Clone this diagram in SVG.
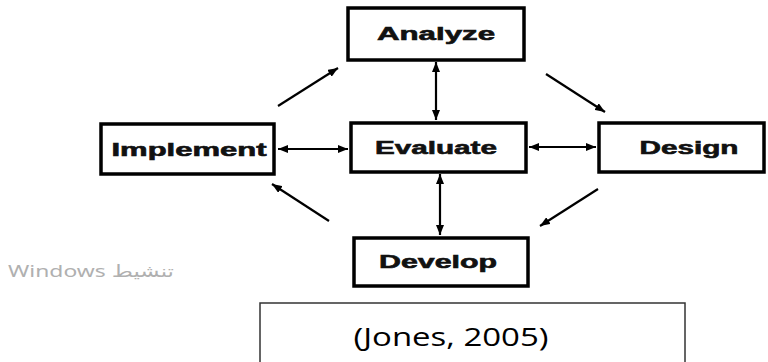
<svg xmlns="http://www.w3.org/2000/svg" width="768" height="362" viewBox="0 0 768 362">
<style>
.box{fill:#fff;stroke:#000;stroke-width:3.5}
.lbl{font-family:"Liberation Sans",Arial,sans-serif;font-weight:bold;font-size:18px;fill:#111;stroke:#111;stroke-width:0.6;text-anchor:middle}
.con{stroke:#000;stroke-width:2.2;fill:none}
.cite{font-family:"Open Sans","Liberation Sans",sans-serif;font-size:26px;fill:#000;text-anchor:middle}
.wm{font-family:"Noto Sans","DejaVu Sans",sans-serif;font-size:17px;fill:#b0b0b0}
</style>
<defs>
<marker id="ah" viewBox="0 0 10 8" refX="10" refY="4" markerWidth="10" markerHeight="8" markerUnits="userSpaceOnUse" orient="auto-start-reverse">
<path d="M0,0 L10,4 L0,8 Z" fill="#000"/>
</marker>
</defs>
<rect width="768" height="362" fill="#fff"/>
<g id="connectors">
<line class="con" x1="436" y1="62" x2="436" y2="120" marker-start="url(#ah)" marker-end="url(#ah)"/>
<line class="con" x1="440" y1="174" x2="440" y2="235" marker-start="url(#ah)" marker-end="url(#ah)"/>
<line class="con" x1="278" y1="149" x2="348" y2="149" marker-start="url(#ah)" marker-end="url(#ah)"/>
<line class="con" x1="529" y1="147" x2="596" y2="147" marker-start="url(#ah)" marker-end="url(#ah)"/>
<line class="con" x1="278" y1="106" x2="338" y2="68" marker-end="url(#ah)"/>
<line class="con" x1="546" y1="74" x2="605" y2="112" marker-end="url(#ah)"/>
<line class="con" x1="598" y1="189" x2="540" y2="226" marker-end="url(#ah)"/>
<line class="con" x1="329" y1="221" x2="272" y2="184" marker-end="url(#ah)"/>
</g>
<g id="analyze">
<rect class="box" x="348" y="8" width="176" height="52"/>
<text class="lbl" x="436" y="40" textLength="118" lengthAdjust="spacingAndGlyphs">Analyze</text>
</g>
<g id="implement">
<rect class="box" x="101" y="124" width="173" height="50"/>
<text class="lbl" x="189" y="156" textLength="155" lengthAdjust="spacingAndGlyphs">Implement</text>
</g>
<g id="evaluate">
<rect class="box" x="351" y="123" width="175" height="49"/>
<text class="lbl" x="436" y="154" textLength="122" lengthAdjust="spacingAndGlyphs">Evaluate</text>
</g>
<g id="design">
<rect class="box" x="599" y="123" width="165" height="49"/>
<text class="lbl" x="689" y="154" textLength="99" lengthAdjust="spacingAndGlyphs">Design</text>
</g>
<g id="develop">
<rect class="box" x="354" y="238" width="174" height="48"/>
<text class="lbl" x="438" y="268" textLength="118" lengthAdjust="spacingAndGlyphs">Develop</text>
</g>
<g id="citation">
<rect x="260" y="303" width="425" height="70" fill="#fff" stroke="#333" stroke-width="1.5"/>
<text class="cite" x="451" y="346" textLength="195" lengthAdjust="spacingAndGlyphs">(Jones, 2005)</text>
</g>
<text class="wm" x="8" y="277" textLength="166" lengthAdjust="spacingAndGlyphs">Windows تنشيط</text>
</svg>
